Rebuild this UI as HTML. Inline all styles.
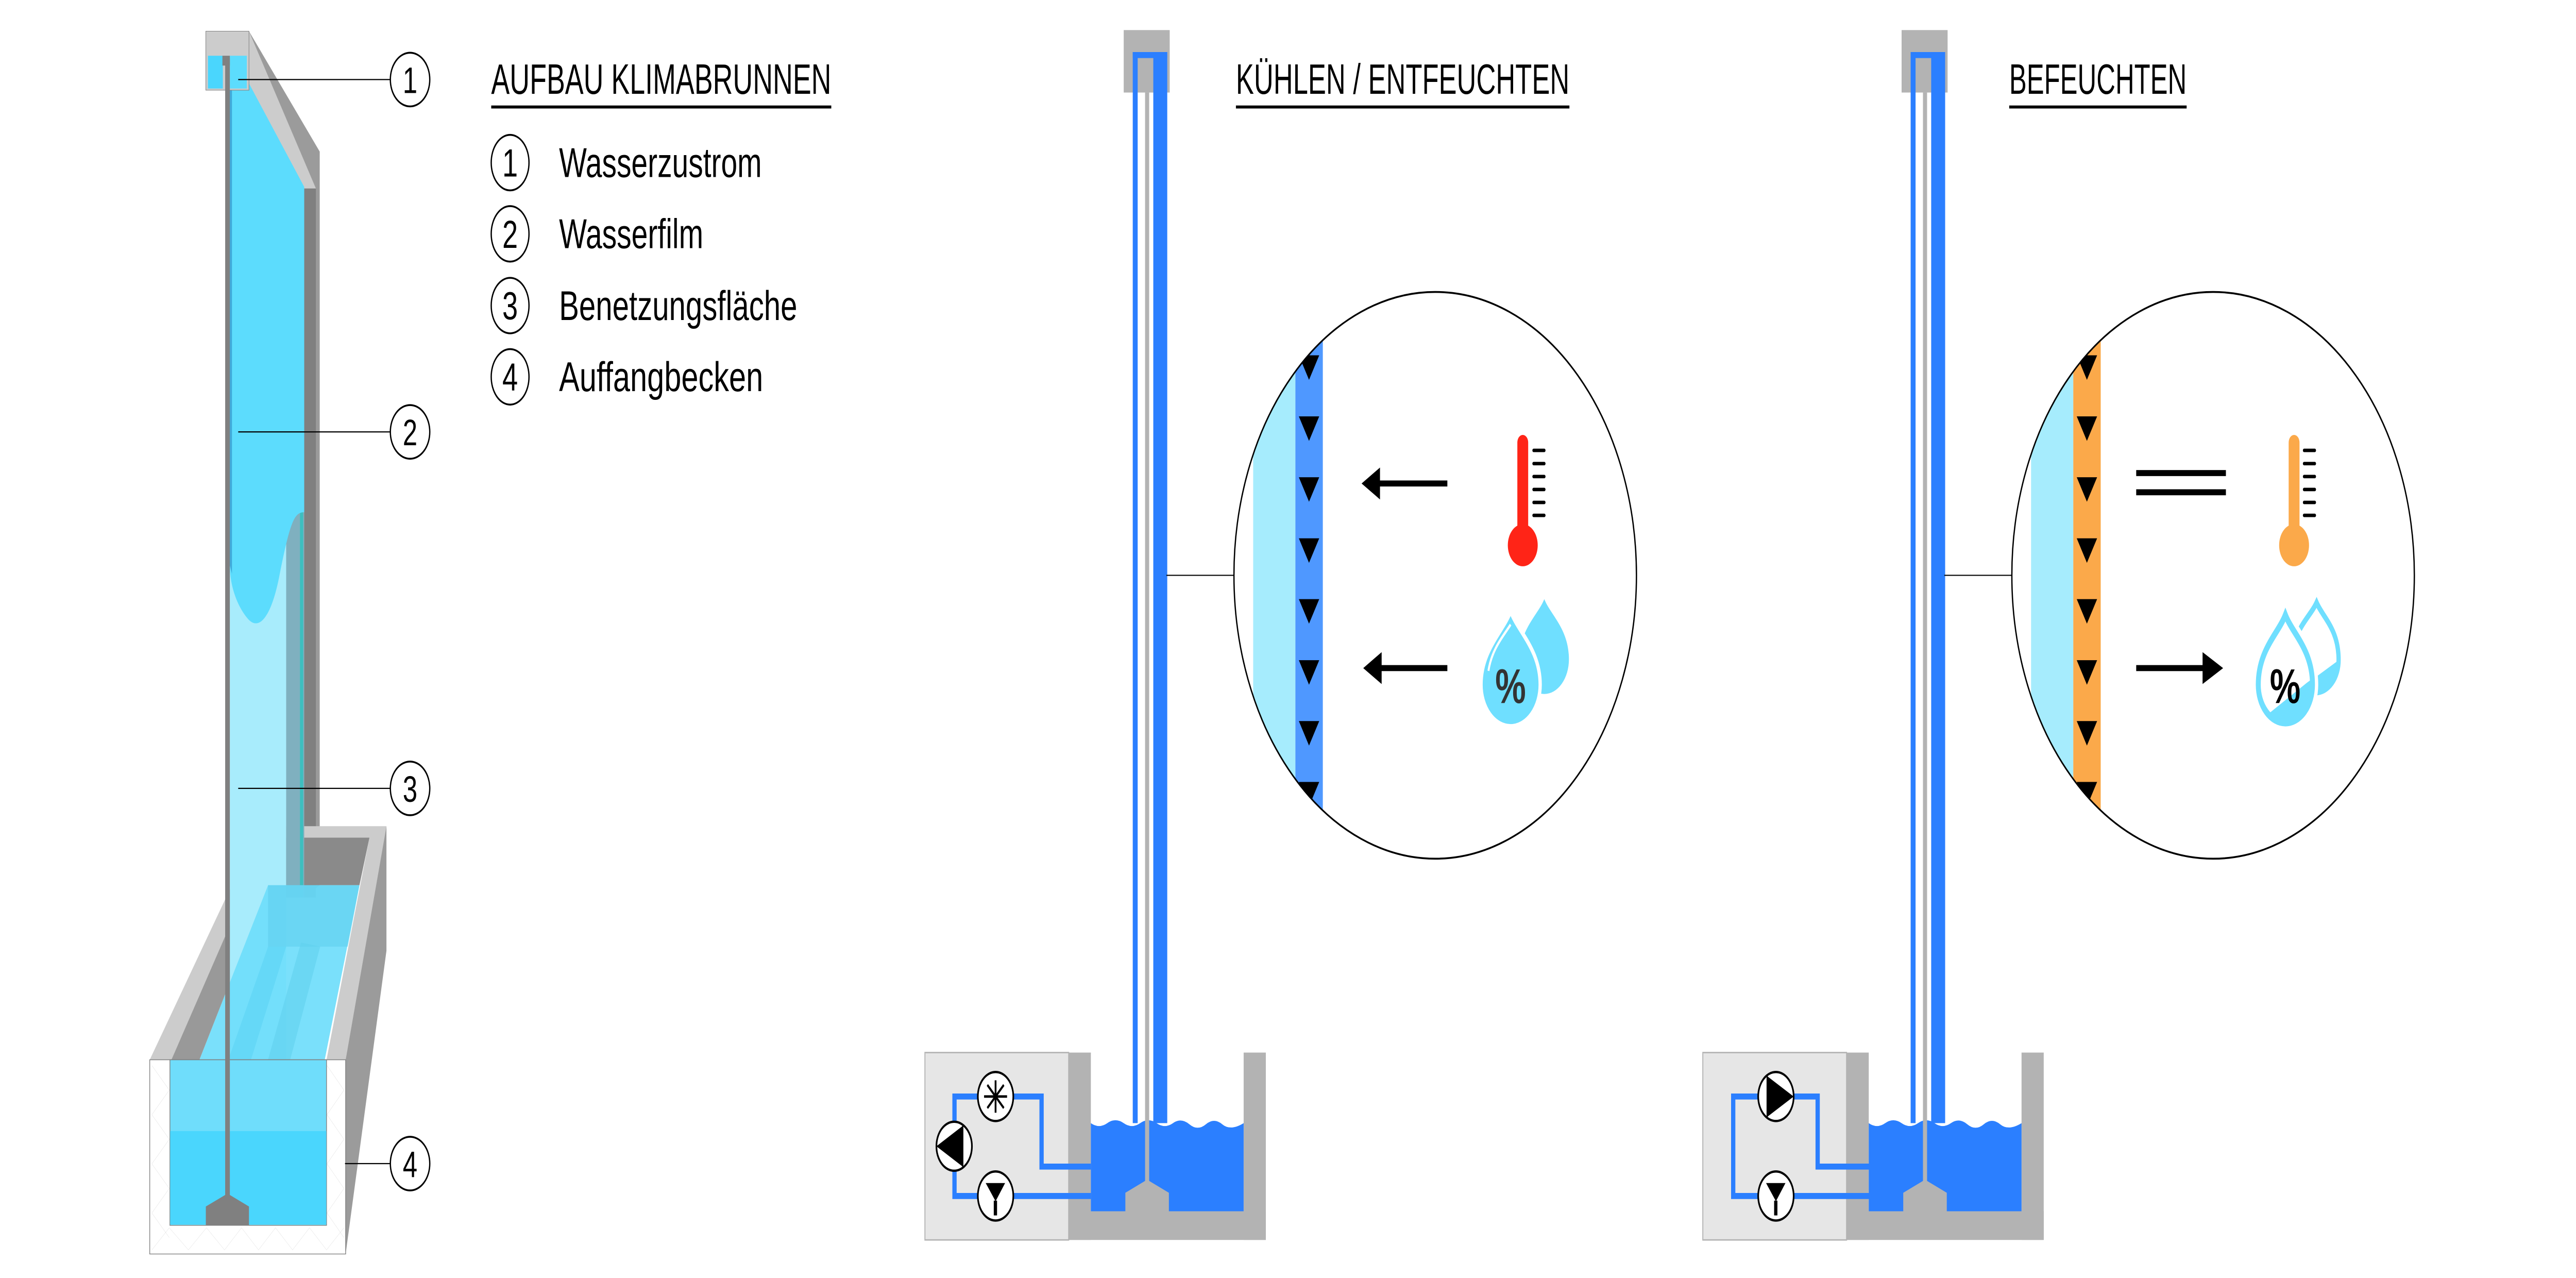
<!DOCTYPE html>
<html><head><meta charset="utf-8"><style>html,body{margin:0;padding:0;background:#fff;width:100%;height:100%;overflow:hidden}svg{display:block;position:absolute;left:0;top:0;width:100vw;height:100vh}</style></head>
<body>
<svg xmlns="http://www.w3.org/2000/svg" xmlns:xlink="http://www.w3.org/1999/xlink" viewBox="0 0 1568 552.45" preserveAspectRatio="none" font-family="'Liberation Sans', sans-serif">
<defs>
<clipPath id="cm"><circle cx="873.6" cy="248.7" r="122.5"/></clipPath>
<clipPath id="cr"><circle cx="1347.1" cy="248.7" r="122.5"/></clipPath>
<g id="tower">
  <rect x="684" y="13" width="28" height="27" fill="#B3B3B3"/>
  <rect x="689.5" y="22.5" width="21" height="2.6" fill="#2B7FFF"/>
  <rect x="689.5" y="22.5" width="3" height="463" fill="#2B7FFF"/>
  <rect x="702" y="22.5" width="8.5" height="463" fill="#2B7FFF"/>
  <rect x="650.5" y="455" width="13.5" height="81" fill="#B3B3B3"/>
  <rect x="757" y="455" width="13.5" height="81" fill="#B3B3B3"/>
  <rect x="650.5" y="523.6" width="120" height="12.4" fill="#B3B3B3"/>
  <path d="M664,485.5 Q669,488 674,485.5 T684,485.5 T694,485.5 T704,485.5 T714,485.5 T724,486 T734,486 T744,486 T757,485.5 V523.6 H664 Z" fill="#2B7FFF"/>
  <rect x="697" y="40" width="2.5" height="472" fill="#B3B3B3"/>
  <polygon points="685,524 685,515.6 697,510.5 699.5,510.5 711.5,515.6 711.5,524" fill="#B3B3B3"/>
  <rect x="563" y="455" width="87.5" height="81" fill="#E6E6E6" stroke="#B3B3B3" stroke-width="0.6"/>
  <line x1="710" y1="248.7" x2="751.5" y2="248.7" stroke="#000" stroke-width="0.5"/>
</g>
<g id="tris" fill="#000">
  <polygon points="790.6,153.6 803,153.6 796.8,164.2"/>
  <polygon points="790.6,180 803,180 796.8,190.6"/>
  <polygon points="790.6,206.3 803,206.3 796.8,216.9"/>
  <polygon points="790.6,232.7 803,232.7 796.8,243.3"/>
  <polygon points="790.6,259 803,259 796.8,269.6"/>
  <polygon points="790.6,285.4 803,285.4 796.8,296"/>
  <polygon points="790.6,311.7 803,311.7 796.8,322.3"/>
  <polygon points="790.6,338 803,338 796.8,348.6"/>
</g>
</defs>

<!-- ============ LEFT FIGURE ============ -->
<g transform="matrix(0.12934,0,0,0.3543,66.83,0)">
  <polygon points="655,38 988,185 988,1080 915,1095 915,230 655,110" fill="#9B9B9B"/>
  <polygon points="452,38 655,38 970,230 915,230 600,110 452,110" fill="#CCCCCC"/>
  <rect x="915" y="230" width="55" height="865" fill="#808080"/>
  <polygon points="188,1293 705,1008 1302,1008 1110,1293 1020,1293 1222,1022 745,1022 290,1293" fill="#CCCCCC"/>
  <polygon points="745,1022 1222,1022 1175,1080 745,1080" fill="#8A8A8A"/>
  <polygon points="290,1293 745,1022 745,1080 290,1380" fill="#999999"/>
  <rect x="565" y="600" width="265" height="700" fill="#A8ECFC"/>
  <rect x="830" y="230" width="85" height="395" fill="#58D2EE"/>
  <rect x="830" y="625" width="85" height="470" fill="#7FB0BF"/>
  <rect x="895" y="625" width="15" height="470" fill="#3DBFBF"/>
  <path d="M565,72 L600,75 L915,228 L915,625 C870,625 850,635 800,700 C760,755 700,770 650,755 C600,740 565,715 565,690 Z" fill="#5CDCFD"/>
  <path d="M565,72 L575,72 L575,700 L565,690 Z" fill="#3FA9DA"/>
  <polygon points="290,1380 745,1080 1175,1080 1010,1295 1010,1380" fill="#6FDDFB" opacity="0.92"/>
  <polygon points="745,1080 1175,1080 1120,1155 745,1155" fill="#5FCFEF" opacity="0.6"/>
  <polygon points="440,1380 745,1155 830,1155 560,1380" fill="#5CD4F5" opacity="0.6"/>
  <polygon points="650,1380 900,1150 990,1155 760,1380" fill="#60D0EE" opacity="0.6"/>
  <polygon points="1110,1293 1302,1008 1302,1160 1110,1530" fill="#9B9B9B"/>
  <rect x="188" y="1293" width="922" height="237" fill="#fff" stroke="#808080" stroke-width="1.4" vector-effect="non-scaling-stroke"/>
  <g stroke="#BBBBBB" stroke-width="0.3" fill="none">
    <polyline points="198,1300 280,1330 198,1360 280,1390 198,1420 280,1450 198,1480 280,1510" vector-effect="non-scaling-stroke"/>
    <polyline points="1022,1300 1102,1330 1022,1360 1102,1390 1022,1420 1102,1450 1022,1480 1102,1510" vector-effect="non-scaling-stroke"/>
    <polyline points="198,1525 280,1498 370,1525 455,1498 540,1525 620,1498 700,1525 780,1498 860,1525 940,1498 1020,1525 1102,1498" vector-effect="non-scaling-stroke"/>
  </g>
  <rect x="283" y="1293" width="737" height="202" fill="#6FDDFB" stroke="#808080" stroke-width="1.4" vector-effect="non-scaling-stroke"/>
  <rect x="284" y="1380" width="735" height="114" fill="#4AD6FD"/>
  <rect x="452" y="38" width="203" height="72" fill="#CCCCCC" stroke="#808080" stroke-width="1" vector-effect="non-scaling-stroke"/>
  <rect x="462" y="68" width="70" height="40" fill="#4AD6FD"/>
  <rect x="565" y="68" width="80" height="40" fill="#5CDCFD"/>
  <rect x="530" y="68" width="35" height="12" fill="#808080"/>
  <rect x="543" y="70" width="22" height="1392" fill="#808080"/>
  <polygon points="452,1472 543,1458 565,1458 655,1472 655,1495 452,1495" fill="#808080"/>
</g>
<g stroke="#000" stroke-width="0.5">
  <line x1="145" y1="34.4" x2="237.5" y2="34.4"/>
  <line x1="145" y1="186.7" x2="237.5" y2="186.7"/>
  <line x1="145" y1="340.8" x2="237.5" y2="340.8"/>
  <line x1="210" y1="503" x2="237.5" y2="503"/>
</g>
<g fill="#fff" stroke="#000" stroke-width="0.8">
  <ellipse cx="249.6" cy="34.4" rx="12" ry="11.6"/>
  <ellipse cx="249.6" cy="186.7" rx="12" ry="11.6"/>
  <ellipse cx="249.6" cy="340.8" rx="12" ry="11.6"/>
  <ellipse cx="249.6" cy="503" rx="12" ry="11.6"/>
</g>
<g font-size="16" text-anchor="middle" fill="#000">
  <text x="249.6" y="40.2">1</text>
  <text x="249.6" y="192.5">2</text>
  <text x="249.6" y="346.6">3</text>
  <text x="249.6" y="508.8">4</text>
</g>

<text x="299" y="40.5" font-size="18.5" textLength="207" lengthAdjust="spacingAndGlyphs">AUFBAU KLIMABRUNNEN</text>
<rect x="299" y="45.6" width="207" height="1.3" fill="#000"/>
<g fill="#fff" stroke="#000" stroke-width="0.8">
  <ellipse cx="310.5" cy="70.3" rx="11.5" ry="12"/>
  <ellipse cx="310.5" cy="101.1" rx="11.5" ry="12"/>
  <ellipse cx="310.5" cy="132.1" rx="11.5" ry="12"/>
  <ellipse cx="310.5" cy="162.9" rx="11.5" ry="12"/>
</g>
<g font-size="17" text-anchor="middle" fill="#000">
  <text x="310.5" y="76.3">1</text>
  <text x="310.5" y="107.1">2</text>
  <text x="310.5" y="138.1">3</text>
  <text x="310.5" y="168.9">4</text>
</g>
<g font-size="18" fill="#000">
  <text x="340.3" y="76.5" textLength="123.4" lengthAdjust="spacingAndGlyphs">Wasserzustrom</text>
  <text x="340.3" y="107.3" textLength="87.8" lengthAdjust="spacingAndGlyphs">Wasserfilm</text>
  <text x="340.3" y="138.3" textLength="145" lengthAdjust="spacingAndGlyphs">Benetzungsfläche</text>
  <text x="340.3" y="169.1" textLength="124.2" lengthAdjust="spacingAndGlyphs">Auffangbecken</text>
</g>

<!-- ============ MIDDLE ============ -->
<use xlink:href="#tower"/>
<g fill="none" stroke="#2B7FFF" stroke-width="2.6">
  <path d="M664,504.3 H634 V474 H581 V517 H664"/>
</g>
<g stroke="#000" stroke-width="1">
  <ellipse cx="606" cy="474" rx="10.8" ry="10.6" fill="#fff"/>
  <ellipse cx="580.8" cy="495.5" rx="10.8" ry="10.6" fill="#fff"/>
  <ellipse cx="606" cy="517" rx="10.8" ry="10.6" fill="#fff"/>
</g>
<g stroke="#000" stroke-width="1.1">
  <line x1="599" y1="474" x2="613" y2="474"/>
  <line x1="606" y1="467" x2="606" y2="481"/>
  <line x1="601" y1="469" x2="611" y2="479"/>
  <line x1="611" y1="469" x2="601" y2="479"/>
</g>
<polygon points="586,486.7 586,504.3 570,495.5" fill="#000"/>
<line x1="586" y1="486.7" x2="586" y2="504.3" stroke="#000" stroke-width="0.8"/>
<polygon points="600,511.4 611.8,511.4 606,519.3" fill="#000"/>
<rect x="604.9" y="519" width="2" height="6.4" fill="#000"/>
<circle cx="873.6" cy="248.7" r="122.5" fill="#fff"/>
<g clip-path="url(#cm)">
  <rect x="762.8" y="120" width="25.7" height="260" fill="#A6ECFD"/>
  <rect x="788.5" y="120" width="16.7" height="260" fill="#4F98FF"/>
  <use xlink:href="#tris"/>
</g>
<circle cx="873.6" cy="248.7" r="122.5" fill="none" stroke="#000" stroke-width="0.8"/>
<rect x="839" y="207.7" width="42" height="2.6" fill="#000"/>
<polygon points="828.8,209 840,202.1 840,215.9" fill="#000"/>
<rect x="839" y="287.5" width="42" height="2.6" fill="#000"/>
<polygon points="829.8,288.8 841,281.9 841,295.7" fill="#000"/>
<g fill="#FF2417">
  <rect x="923.6" y="188" width="6.6" height="44" rx="3.3"/>
  <circle cx="926.9" cy="235.7" r="9.1"/>
</g>
<g stroke="#000" stroke-width="1.5" stroke-linecap="round">
  <line x1="933.5" y1="194.7" x2="940" y2="194.7"/><line x1="933.5" y1="200.4" x2="940" y2="200.4"/>
  <line x1="933.5" y1="206" x2="940" y2="206"/><line x1="933.5" y1="211.6" x2="940" y2="211.6"/>
  <line x1="933.5" y1="217.2" x2="940" y2="217.2"/><line x1="933.5" y1="222.8" x2="940" y2="222.8"/>
</g>
<path d="M940,259 C944,266 955,272 955,285 A15,15 0 1 1 925,285 C925,272 936,266 940,259 Z" fill="#6FDFFF"/>
<path d="M919.5,264.3 C924,273 937.5,281 937.5,296 A18,18 0 1 1 901.5,296 C901.5,281 915,273 919.5,264.3 Z" fill="#6FDFFF" stroke="#fff" stroke-width="2"/>
<path d="M906,290 C908,281 914,276 919.5,270" fill="none" stroke="#fff" stroke-width="1.2"/>
<text x="919.5" y="304" font-size="21" font-weight="bold" text-anchor="middle" fill="#333">%</text>
<text x="752.3" y="40.5" font-size="18.5" textLength="203" lengthAdjust="spacingAndGlyphs">KÜHLEN / ENTFEUCHTEN</text>
<rect x="752.3" y="45.6" width="203" height="1.3" fill="#000"/>

<!-- ============ RIGHT ============ -->
<use xlink:href="#tower" x="473.5"/>
<g fill="none" stroke="#2B7FFF" stroke-width="2.6">
  <path d="M1137.7,504.3 H1106.4 V474 H1055 V517 H1137.7"/>
</g>
<g stroke="#000" stroke-width="1">
  <ellipse cx="1081" cy="474" rx="10.8" ry="10.6" fill="#fff"/>
  <ellipse cx="1081" cy="517" rx="10.8" ry="10.6" fill="#fff"/>
</g>
<polygon points="1075.7,465.2 1075.7,482.8 1091.8,474" fill="#000"/>
<line x1="1075.7" y1="465.2" x2="1075.7" y2="482.8" stroke="#000" stroke-width="0.8"/>
<polygon points="1075,511.4 1086.8,511.4 1081,519.3" fill="#000"/>
<rect x="1079.9" y="519" width="2" height="6.4" fill="#000"/>
<circle cx="1347.1" cy="248.7" r="122.5" fill="#fff"/>
<g clip-path="url(#cr)">
  <rect x="1236.3" y="120" width="25.7" height="260" fill="#A6ECFD"/>
  <rect x="1262" y="120" width="16.7" height="260" fill="#FBA94A"/>
  <use xlink:href="#tris" x="473.5"/>
</g>
<circle cx="1347.1" cy="248.7" r="122.5" fill="none" stroke="#000" stroke-width="0.8"/>
<rect x="1300.3" y="203.2" width="54.6" height="2.6" fill="#000"/>
<rect x="1300.3" y="211.5" width="54.6" height="2.6" fill="#000"/>
<rect x="1300.3" y="287.5" width="41" height="2.6" fill="#000"/>
<polygon points="1340.7,281.9 1353.2,288.8 1340.7,295.7" fill="#000"/>
<g fill="#FBA94A">
  <rect x="1393.1" y="188" width="6.6" height="44" rx="3.3"/>
  <circle cx="1396.4" cy="235.7" r="9.1"/>
</g>
<g stroke="#000" stroke-width="1.5" stroke-linecap="round">
  <line x1="1402.5" y1="194.7" x2="1409" y2="194.7"/><line x1="1402.5" y1="200.4" x2="1409" y2="200.4"/>
  <line x1="1402.5" y1="206" x2="1409" y2="206"/><line x1="1402.5" y1="211.6" x2="1409" y2="211.6"/>
  <line x1="1402.5" y1="217.2" x2="1409" y2="217.2"/><line x1="1402.5" y1="222.8" x2="1409" y2="222.8"/>
</g>
<clipPath id="sd"><path d="M1410.1,260.5 C1414,267 1423.5,272 1423.5,285.3 A14,14 0 1 1 1395.5,285.3 C1395.5,272 1406,267 1410.1,260.5 Z"/></clipPath>
<polygon points="1395,300 1408.8,293.1 1430,282 1430,305 1395,305" fill="#6FDFFF" clip-path="url(#sd)"/>
<path d="M1410.1,260.5 C1414,267 1423.5,272 1423.5,285.3 A14,14 0 1 1 1395.5,285.3 C1395.5,272 1406,267 1410.1,260.5 Z" fill="none" stroke="#6FDFFF" stroke-width="2.6"/>
<path d="M1391.1,265.8 C1395.5,274 1407.6,281 1407.6,296 A16.5,16.5 0 1 1 1374.6,296 C1374.6,281 1386.7,274 1391.1,265.8 Z" fill="#fff" stroke="#fff" stroke-width="7"/>
<clipPath id="bd"><path d="M1391.1,265.8 C1395.5,274 1407.6,281 1407.6,296 A16.5,16.5 0 1 1 1374.6,296 C1374.6,281 1386.7,274 1391.1,265.8 Z"/></clipPath>
<polygon points="1370,315 1380.4,308.8 1404.1,295.2 1412,291 1412,320 1370,320" fill="#6FDFFF" clip-path="url(#bd)"/>
<path d="M1391.1,265.8 C1395.5,274 1407.6,281 1407.6,296 A16.5,16.5 0 1 1 1374.6,296 C1374.6,281 1386.7,274 1391.1,265.8 Z" fill="none" stroke="#6FDFFF" stroke-width="3"/>
<text x="1391" y="304" font-size="21" font-weight="bold" text-anchor="middle" fill="#000">%</text>
<text x="1223" y="40.5" font-size="18.5" textLength="108" lengthAdjust="spacingAndGlyphs">BEFEUCHTEN</text>
<rect x="1223" y="45.6" width="108" height="1.3" fill="#000"/>
</svg>
</body></html>
